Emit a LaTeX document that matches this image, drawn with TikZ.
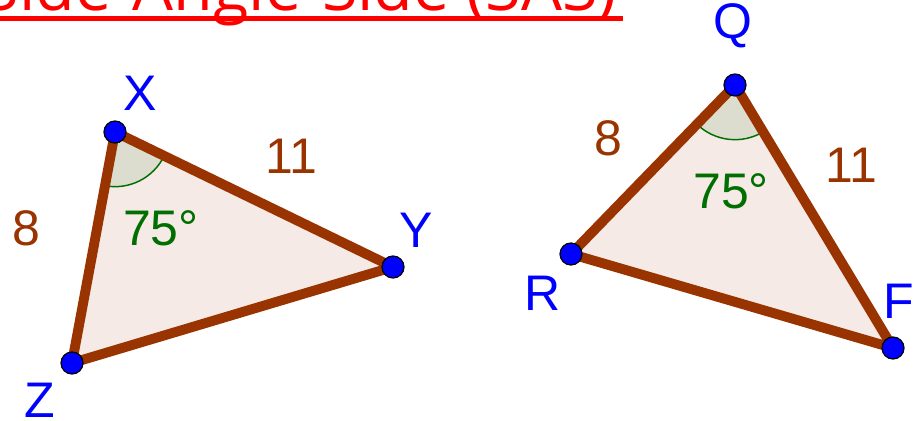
\documentclass[tikz,border=0pt]{standalone}
\usepackage{fontspec}
\setmainfont{Liberation Sans}
\newfontfamily\titlefont{Open Sans}
\usetikzlibrary{angles}
\definecolor{edgebrown}{RGB}{153,51,0}
\definecolor{trifillc}{RGB}{245,234,229}
\definecolor{angfillc}{RGB}{220,221,207}
\definecolor{anggreen}{RGB}{0,110,0}
\definecolor{ptblue}{RGB}{0,0,255}
\tikzset{
  trifill/.style={fill=trifillc},
  edge/.style={draw=edgebrown, line width=7.4pt, line join=round},
  anglefill/.style={fill=angfillc, draw=none, angle radius=41pt},
  anglearc/.style={draw=anggreen, line width=1.1pt, angle radius=41pt},
  pt/.style={circle, fill=ptblue, draw=black, line width=0.9pt, minimum size=16.5pt, inner sep=0pt},
  vlabel/.style={text=ptblue, font=\fontsize{37.5}{40}\selectfont, inner sep=0pt, anchor=base},
  slabel/.style={text=edgebrown, font=\fontsize{37.5}{40}\selectfont, inner sep=0pt, anchor=base},
  alabel/.style={text=anggreen, font=\fontsize{37.5}{40}\selectfont, inner sep=0pt, anchor=base},
  titletext/.style={text=red, font=\titlefont\fontsize{48.5}{52}\selectfont, inner sep=0pt, anchor=base east}
}
\begin{document}
\begin{tikzpicture}[x=0.75pt, y=-0.75pt]
\useasboundingbox (0,0) rectangle (914,421);
% title
\node[titletext] (title) at (617,10) {Side-Angle-Side (SAS)};
\coordinate (ulA) at (0,18.5);
\coordinate (ulB) at (623,18.5);
\draw[red, line width=3.75pt] (ulA) -- (ulB);
% vertices
\coordinate (X) at (115,132);
\coordinate (Y) at (393,267);
\coordinate (Z) at (72,363);
\coordinate (Q) at (735,85);
\coordinate (R) at (571,254);
\coordinate (F) at (893,348);
% fills
\fill[trifill] (X) -- (Y) -- (Z) -- cycle;
\fill[trifill] (Q) -- (R) -- (F) -- cycle;
\pic[anglefill] {angle = Z--X--Y};
\pic[anglefill] {angle = R--Q--F};
\pic[anglearc] {angle = Z--X--Y};
\pic[anglearc] {angle = R--Q--F};
% edges
\draw[edge] (X) -- (Y) -- (Z) -- cycle;
\draw[edge] (Q) -- (R) -- (F) -- cycle;
% points
\node[pt] (pX) at (X) {};
\node[pt] (pY) at (Y) {};
\node[pt] (pZ) at (Z) {};
\node[pt] (pQ) at (Q) {};
\node[pt] (pR) at (R) {};
\node[pt] (pF) at (F) {};
% vertex labels
\node[vlabel] (lX) at (140,110) {X};
\node[vlabel] (lY) at (416,247) {Y};
\node[vlabel] (lZ) at (40,417) {Z};
\node[vlabel] (lQ) at (733,38) {Q};
\node[vlabel] (lR) at (543,310) {R};
\node[vlabel] (lF) at (899,318) {F};
% side labels
\node[slabel] (s1) at (26,245) {8};
\node[slabel] (s2) at (291,173) {11};
\node[slabel] (s3) at (608,155) {8};
\node[slabel] (s4) at (851,182) {11};
% angle labels
\node[alabel] (a1) at (161,245) {75°};
\node[alabel] (a2) at (731,208) {75°};
\end{tikzpicture}
\end{document}
